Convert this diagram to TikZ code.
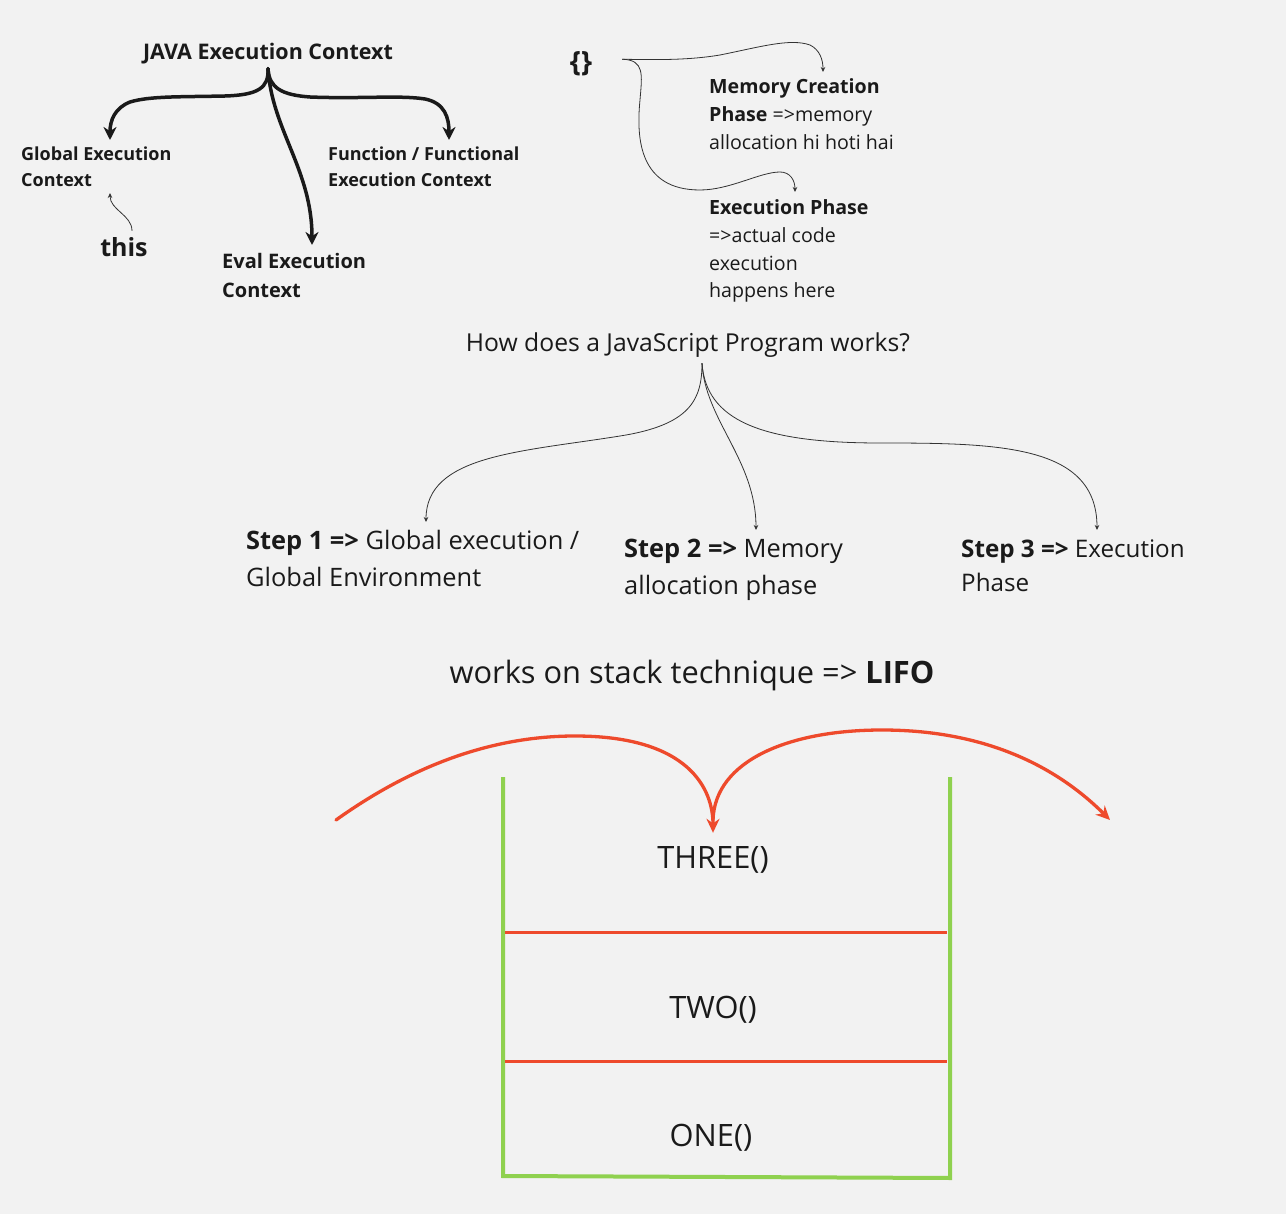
\documentclass[tikz,border=0pt]{standalone}
\usepackage{fontspec}
\setmainfont{Open Sans}
\usetikzlibrary{arrows.meta}
\definecolor{paper}{HTML}{F2F2F2}
\definecolor{ink}{HTML}{1A1A1A}
\definecolor{wire}{HTML}{333333}
\definecolor{stackgreen}{HTML}{8FD14F}
\definecolor{stackred}{HTML}{EE4A2C}
\newcommand{\fs}[2]{\fontsize{#1}{#2}\selectfont}

\begin{document}
\begin{tikzpicture}[x=1pt,y=-1pt,
  every node/.style={inner sep=0pt, text=ink},
  txt/.style={anchor=base west, align=left},
  fat/.style={line width=3.5pt, ink, line cap=round, -{Stealth[length=13pt,width=13pt]}},
  hair/.style={line width=0.8pt, wire, -{Stealth[length=5pt,width=4.5pt]}},
  redarrow/.style={line width=3.3pt, stackred, line cap=round, -{Stealth[length=14pt,width=13pt]}},
  wall/.style={line width=4pt, stackgreen},
  shelf/.style={line width=3pt, stackred}]
  \useasboundingbox[fill=paper] (0,0) rectangle (1286,1214);

  % execution contexts (txt nodes sit on their last baseline)
  \node[anchor=base, font=\fs{21.5}{26}\bfseries] (java) at (268,60) {JAVA Execution Context};
  \node[txt, font=\fs{18}{26}\bfseries] (global) at (21,187) {Global Execution\\Context};
  \node[txt, font=\fs{18}{26}\bfseries] (func) at (328,187) {Function / Functional\\Execution Context};
  \node[txt, font=\fs{20}{29}\bfseries] (eval) at (222,298) {Eval Execution\\Context};
  \node[anchor=base, font=\fs{25}{30}\bfseries] (this) at (124,257) {this};

  \draw[fat] ([yshift=-4pt]java.south) .. controls (269,88) and (258,95) .. (225,96)
    .. controls (180,97) and (150,96) .. (130,102)
    .. controls (115,108) and (110,120) .. ([xshift=89pt,yshift=47pt]global.base west);
  \draw[fat] ([yshift=-4pt]java.south) .. controls (272,130) and (312,170) .. ([xshift=90pt,yshift=53pt]eval.base west);
  \draw[fat] ([yshift=-4pt]java.south) .. controls (269,88) and (282,95) .. (310,97)
    .. controls (360,99) and (400,95) .. (425,99)
    .. controls (445,103) and (449,118) .. ([xshift=121pt,yshift=47pt]func.base west);
  \draw[hair] ([xshift=8pt,yshift=7pt]this.north) .. controls (132,215) and (110,210) .. ([xshift=89pt,yshift=-6pt]global.base west);

  % phases
  \node[anchor=base, font=\fs{28}{30}\bfseries] (brace) at (581,72) {\{\}};
  \node[txt, font=\fs{19.6}{28}] (memory) at (709,150) {\textbf{Memory Creation}\\\textbf{Phase} =>memory\\allocation hi hoti hai};
  \node[txt, font=\fs{19.6}{27.7}] (exec) at (709,298) {\textbf{Execution Phase}\\=>actual code\\execution\\happens here};

  \draw[hair] ([xshift=30pt,yshift=5pt]brace.east) .. controls (660,60) and (690,60) .. (720,55)
    .. controls (760,47) and (790,38) .. (810,45)
    .. controls (820,50) and (823,60) .. ([xshift=114pt,yshift=78pt]memory.base west);
  \draw[hair] ([xshift=30pt,yshift=5pt]brace.east) .. controls (645,60) and (642,75) .. (640,100)
    .. controls (636,140) and (640,190) .. (700,190)
    .. controls (730,190) and (760,172) .. (780,172)
    .. controls (790,172) and (795,180) .. ([xshift=86pt,yshift=106pt]exec.base west);

  % program steps
  \node[anchor=base, font=\fs{24.7}{30}] (how) at (688,352) {How does a JavaScript Program works?};
  \node[txt, font=\fs{25.4}{36}] (step1) at (246,586) {\textbf{Step 1 =>} Global execution /\\Global Environment};
  \node[txt, font=\fs{25.4}{36}] (step2) at (624,594) {\textbf{Step 2 =>} Memory\\allocation phase};
  \node[txt, font=\fs{24.2}{34}] (step3) at (961,591) {\textbf{Step 3 =>} Execution\\Phase};

  \draw[hair] ([xshift=14pt,yshift=-5pt]how.south) .. controls (702,400) and (690,425) .. (620,436)
    .. controls (520,452) and (426,455) .. ([xshift=180pt,yshift=64pt]step1.base west);
  \draw[hair] ([xshift=14pt,yshift=-5pt]how.south) .. controls (705,420) and (756,460) .. ([xshift=132pt,yshift=64pt]step2.base west);
  \draw[hair] ([xshift=14pt,yshift=-5pt]how.south) .. controls (706,420) and (760,443) .. (880,443)
    .. controls (1000,443) and (1097,445) .. ([xshift=136pt,yshift=61pt]step3.base west);

  % call stack
  \node[anchor=base, font=\fs{30.8}{36}] (lifo) at (692,683) {works on stack technique => \textbf{LIFO}};
  \node[anchor=base, font=\fs{30.8}{34}] (three) at (713,868) {THREE()};
  \node[anchor=base, font=\fs{30.8}{34}] (two) at (713,1018) {TWO()};
  \node[anchor=base, font=\fs{30.8}{34}] (one) at (711,1146) {ONE()};

  \draw[wall] (503,777) -- (503,1176) -- (950,1178) -- (950,777);
  \draw[shelf] (505,932) -- (947,932);
  \draw[shelf] (505,1061) -- (947,1061);

  \coordinate (pushfrom) at (336,820);
  \coordinate (popto) at (1110,820);
  \draw[redarrow] (pushfrom) .. controls (420,760) and (500,736) .. (575,736)
    .. controls (690,736) and (713,790) .. ([yshift=13pt]three.north);
  \draw[redarrow] ([yshift=26pt]three.north) .. controls (715,760) and (790,730) .. (882,730)
    .. controls (990,730) and (1060,770) .. (popto);
\end{tikzpicture}
\end{document}
